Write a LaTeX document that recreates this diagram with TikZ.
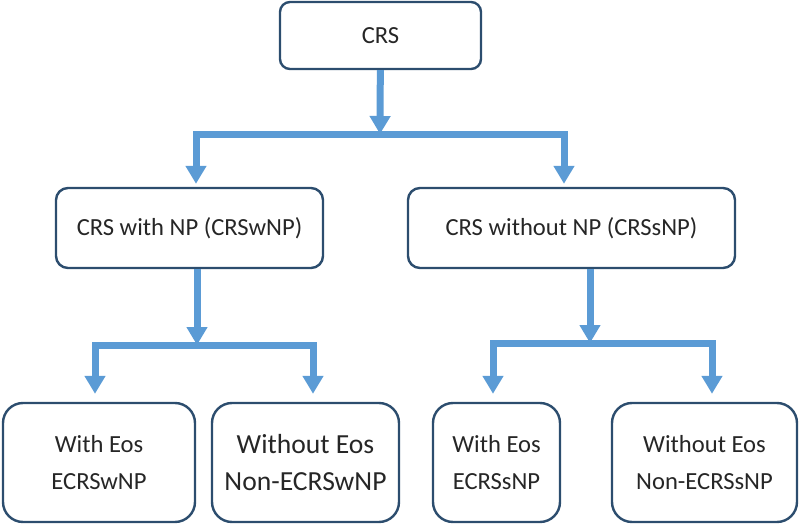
\documentclass[tikz,border=0pt]{standalone}
\usepackage{fontspec}
\setmainfont{Carlito}
\usetikzlibrary{arrows.meta}
\definecolor{boxline}{HTML}{2C4D6E}
\definecolor{flowblue}{HTML}{5B9BD5}
\definecolor{txt}{HTML}{262626}
\begin{document}
\begin{tikzpicture}[x=0.5pt,y=-0.5pt]

    \tikzset{
      box/.style={
        draw=boxline,
        line width=1.2pt,
        rounded corners=6pt,
        text=txt,
        align=center,
        inner sep=0pt,
        font=\fontsize{12.3}{18.5}\selectfont,
      },
      leaf/.style={
        box,
        rounded corners=10pt,
        minimum width=#1,
        minimum height=59.5pt,
      },
      feed/.style={
        draw=flowblue,
        line width=3.5pt,
        line join=miter,
        -{Triangle[width=10pt,length=9pt]},
      },
    }
    \useasboundingbox (0,0) rectangle (800,525);

	\node[box,rounded corners=5pt,minimum width=100.5pt,minimum height=33.5pt] (crs) at (380.5,35.5) {CRS};
	\node[box,minimum width=133.5pt,minimum height=40pt] (cwnp) at (189.5,228) {CRS with NP (CRSwNP)};
	\node[box,minimum width=163.5pt,minimum height=40pt] (csnp) at (571.5,228) {CRS without NP (CRSsNP)};

	\node[leaf=96pt] (ewnp) at (99,462.5) {With Eos\\ECRSwNP};
	\node[leaf=93.5pt,font=\fontsize{13.8}{18.5}\selectfont] (newnp) at (305.5,462.5) {Without Eos\\Non-ECRSwNP};
	\node[leaf=63.5pt] (esnp) at (496.5,462.5) {With Eos\\ECRSsNP};
	\node[leaf=92.5pt] (nesnp) at (704.5,462.5) {Without Eos\\Non-ECRSsNP};

	\coordinate (j1) at (380,134);
	\coordinate (a1) at (196,134);
	\coordinate (a2) at (564,134);
	\coordinate (j2) at (197,345);
	\coordinate (b1) at (95,345);
	\coordinate (b2) at (313,345);
	\coordinate (j3) at (590,343);
	\coordinate (c1) at (493,343);
	\coordinate (c2) at (712,343);

	\draw[feed] (crs) -- (j1);
	\draw[feed,shorten >=1.5pt] (j1) -- (a1) -- (a1 |- cwnp.north);
	\draw[feed,shorten >=1.5pt] (j1) -- (a2) -- (a2 |- csnp.north);

	\draw[feed] (j2 |- cwnp.south) -- (j2);
	\draw[feed,shorten >=4pt] (j2) -- (b1) -- (b1 |- ewnp.north);
	\draw[feed,shorten >=4pt] (j2) -- (b2) -- (b2 |- newnp.north);

	\draw[feed] (j3 |- csnp.south) -- (j3);
	\draw[feed,shorten >=4pt] (j3) -- (c1) -- (c1 |- esnp.north);
	\draw[feed,shorten >=4pt] (j3) -- (c2) -- (c2 |- nesnp.north);

\end{tikzpicture}
\end{document}
